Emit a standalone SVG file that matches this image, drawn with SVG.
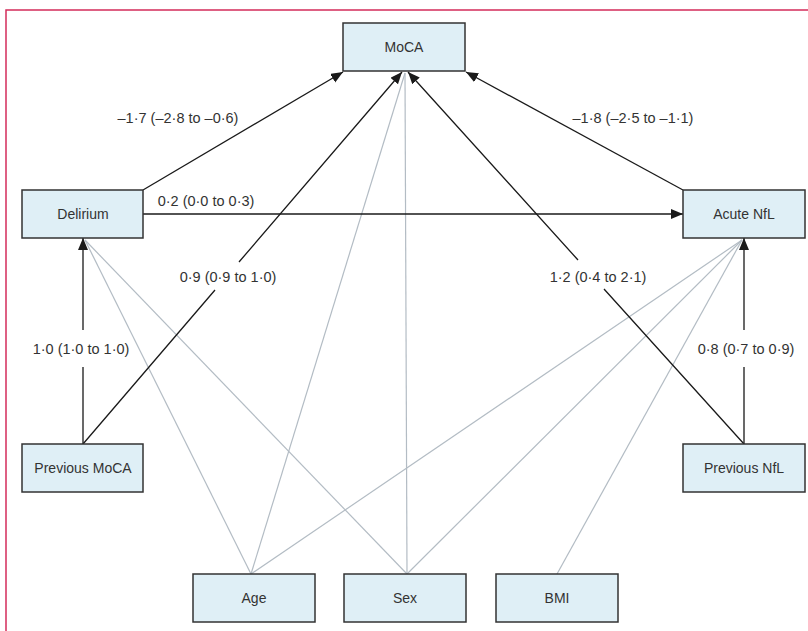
<svg xmlns="http://www.w3.org/2000/svg" width="808" height="631" viewBox="0 0 808 631">
<defs>
<marker id="arr" markerUnits="userSpaceOnUse" markerWidth="13" markerHeight="11" refX="12" refY="5" orient="auto">
<path d="M0,0 L12,5 L0,10 z" fill="#1a1a1a"/>
</marker>
<style>
.node rect{fill:#dfeff6;stroke:#333;stroke-width:1.5}
.node text{font-family:"Liberation Sans",Arial,sans-serif;font-size:14px;fill:#333;text-anchor:middle}
.blk{fill:none;stroke:#1a1a1a;stroke-width:1.3}
.gry{fill:none;stroke:#b3bcc4;stroke-width:1.2}
.lbl{font-family:"Liberation Sans",Arial,sans-serif;font-size:14.5px;fill:#333;text-anchor:middle}
</style>
</defs>
<rect width="808" height="631" fill="#fff"/>
<path d="M6,631 L6,10 L808,10" fill="none" stroke="#d42d5b" stroke-width="1.5"/>
<g id="connectors">
<line class="gry" x1="251" y1="574" x2="85" y2="240"/>
<line class="gry" x1="251" y1="574" x2="405" y2="73"/>
<line class="gry" x1="251" y1="574" x2="742" y2="240"/>
<line class="gry" x1="407" y1="574" x2="85" y2="240"/>
<line class="gry" x1="407" y1="574" x2="405" y2="73"/>
<line class="gry" x1="407" y1="574" x2="742" y2="240"/>
<line class="gry" x1="557" y1="574" x2="742" y2="240"/>
<path class="blk" d="M143,190 L343,72" marker-end="url(#arr)"/>
<path class="blk" d="M683,190 L466,72" marker-end="url(#arr)"/>
<path class="blk" d="M143,214 L683,214" marker-end="url(#arr)"/>
<path class="blk" d="M83,444 L83,367 M83,330 L83,238" marker-end="url(#arr)"/>
<path class="blk" d="M744,444 L744,367 M744,330 L744,238" marker-end="url(#arr)"/>
<path class="blk" d="M83,444 L215,290 M239,262 L402,72" marker-end="url(#arr)"/>
<path class="blk" d="M744,444 L604,289 M578,260 L408,72" marker-end="url(#arr)"/>
<text class="lbl" x="178" y="123">–1·7 (–2·8 to –0·6)</text>
<text class="lbl" x="633" y="123">–1·8 (–2·5 to –1·1)</text>
<text class="lbl" x="206" y="206">0·2 (0·0 to 0·3)</text>
<text class="lbl" x="228" y="282">0·9 (0·9 to 1·0)</text>
<text class="lbl" x="598" y="282">1·2 (0·4 to 2·1)</text>
<text class="lbl" x="81" y="354">1·0 (1·0 to 1·0)</text>
<text class="lbl" x="746" y="354">0·8 (0·7 to 0·9)</text>
</g>
<g id="moca" class="node"><rect x="343" y="23" width="122" height="48"/><text x="404" y="52">MoCA</text></g>
<g id="delirium" class="node"><rect x="22" y="190" width="121" height="48"/><text x="83" y="219">Delirium</text></g>
<g id="acute-nfl" class="node"><rect x="683" y="190" width="122" height="48"/><text x="744" y="219">Acute NfL</text></g>
<g id="previous-moca" class="node"><rect x="22" y="444" width="121" height="48"/><text x="83" y="473">Previous MoCA</text></g>
<g id="previous-nfl" class="node"><rect x="683" y="444" width="122" height="48"/><text x="744" y="473">Previous NfL</text></g>
<g id="age" class="node"><rect x="193" y="574" width="122" height="48"/><text x="254" y="603">Age</text></g>
<g id="sex" class="node"><rect x="344" y="574" width="122" height="48"/><text x="405" y="603">Sex</text></g>
<g id="bmi" class="node"><rect x="496" y="574" width="122" height="48"/><text x="557" y="603">BMI</text></g>
</svg>
